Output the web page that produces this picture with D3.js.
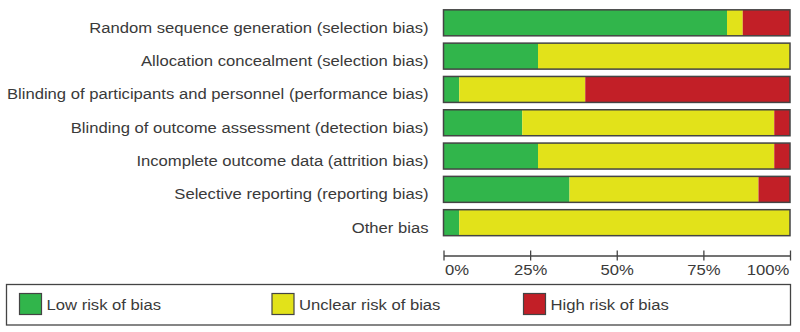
<!DOCTYPE html>
<html>
<head>
<meta charset="utf-8">
<script src="https://cdn.jsdelivr.net/npm/d3@7"></script>
<style>
  body { margin: 0; background: #fff; }
  text { font-family: "Liberation Sans", Arial, sans-serif; fill: #3a3a3a; }
</style>
</head>
<body>
<div id="chart"></div>
<script>
/* risk of bias domains, top to bottom */
const domains = [
    "Random sequence generation (selection bias)",
    "Allocation concealment (selection bias)",
    "Blinding of participants and personnel (performance bias)",
    "Blinding of outcome assessment (detection bias)",
    "Incomplete outcome data (attrition bias)",
    "Selective reporting (reporting bias)",
    "Other bias"
];
/* number of studies per judgement (22 studies) */
const lowRisk     = [18, 6, 1, 5, 6, 8, 1];
const unclearRisk = [1, 16, 8, 16, 15, 12, 21];
const highRisk    = [3, 0, 13, 1, 1, 2, 0];
const judgements = ["Low risk of bias", "Unclear risk of bias", "High risk of bias"];
const tickValues = [0, 0.25, 0.5, 0.75, 1];

var width = 800, height = 332;
/* the text in the original is a little wide, stretch it */
var stretch = "scale(1.11,1)";

var svg = d3.select("#chart").append("svg")
    .attr("width", width)
    .attr("height", height);

var colors = d3.scaleOrdinal()
    .domain(judgements)
    .range(["#31b54b", "#e2e21a", "#c21f27"]);

/* x scale in percent of studies */
var x = d3.scaleLinear().domain([0, 1]).range([443.5, 790]);
var y = d3.scaleBand().domain(domains).range([5.5, 240]).paddingInner(0.22).paddingOuter(0.13);

/* stack the three judgements */
var rows = domains.map(function(d, i) {
    var total = lowRisk[i] + unclearRisk[i] + highRisk[i];
    return { domain: d, "Low risk of bias": lowRisk[i] / total,
             "Unclear risk of bias": unclearRisk[i] / total,
             "High risk of bias": highRisk[i] / total };
});
var series = d3.stack().keys(judgements)(rows);

svg.append("g").selectAll("g")
    .data(series)
    .enter().append("g")
    .attr("fill", function(d) { return colors(d.key); })
    .selectAll("rect")
    .data(function(d) { return d; })
    .enter().append("rect")
    .attr("x", function(d) { return x(d[0]); })
    .attr("y", function(d) { return y(d.data.domain); })
    .attr("width", function(d) { return x(d[1]) - x(d[0]); })
    .attr("height", y.bandwidth());

/* outline around each bar */
svg.append("g").selectAll("rect")
    .data(domains)
    .enter().append("rect")
    .attr("x", x(0))
    .attr("y", function(d) { return y(d); })
    .attr("width", x(1) - x(0))
    .attr("height", y.bandwidth())
    .attr("fill", "none")
    .attr("stroke", "#444")
    .attr("stroke-width", 1.5);

/* domain labels */
svg.append("g").selectAll("text")
    .data(domains)
    .enter().append("text")
    .attr("transform", function(d) {
        return "translate(428.5," + (y(d) + y.bandwidth() / 2 + 10) + ") " + stretch;
    })
    .attr("text-anchor", "end")
    .style("font-size", "15px")
    .text(function(d) { return d; });

/* percent axis */
var axis = svg.append("g")
    .attr("transform", "translate(0,255.5)")
    .call(d3.axisBottom(x).tickValues(tickValues).tickSizeInner(5).tickSizeOuter(0)
        .tickFormat(d3.format(".0%")));
axis.select(".domain").attr("stroke", "#444").attr("stroke-width", 1.3);
axis.selectAll(".tick line").attr("y1", -5).attr("y2", 5).attr("stroke", "#444").attr("stroke-width", 1.3);
axis.selectAll(".tick text")
    .attr("y", 20)
    .attr("dy", 0)
    .attr("transform", stretch)
    .style("font-size", "15px")
    .style("font-family", "'Liberation Sans', Arial, sans-serif")
    .attr("fill", "#3a3a3a")
    .attr("text-anchor", function(d) { return d === 0 ? "start" : d === 1 ? "end" : "middle"; })
    .attr("dx", function(d) { return d === 0 ? 1 : d === 1 ? -1 : 0; });

/* legend */
svg.append("rect")
    .attr("x", 6.5).attr("y", 284.5)
    .attr("width", 784).attr("height", 40.5)
    .attr("fill", "none")
    .attr("stroke", "#444")
    .attr("stroke-width", 1.3);

var legendX = [19.5, 272, 523.5];
var legend = svg.selectAll(".legend")
    .data(judgements)
    .enter().append("g")
    .attr("class", "legend")
    .attr("transform", function(d, i) { return "translate(" + legendX[i] + ",293.5)"; });

legend.append("rect")
    .attr("width", 22)
    .attr("height", 21)
    .attr("fill", colors)
    .attr("stroke", "#444")
    .attr("stroke-width", 1.2);

legend.append("text")
    .attr("transform", "translate(27,16) " + stretch)
    .style("font-size", "15px")
    .text(String);
</script>
</body>
</html>
